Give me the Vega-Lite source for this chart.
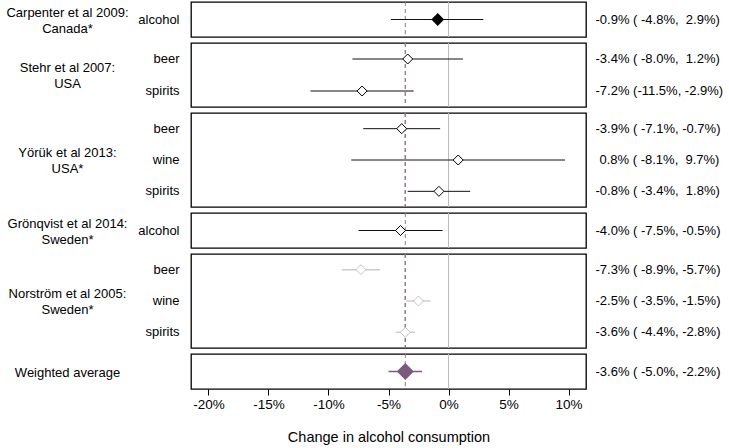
{
  "$schema": "https://vega.github.io/schema/vega-lite/v6.json",
  "padding": {"left": 5, "top": 0, "right": 0, "bottom": 0},
  "background": "white",
  "bounds": "flush",
  "spacing": 6,
  "datasets": {
    "est": [
      {"study": "Carpenter", "beverage": "alcohol", "est": -0.9, "lo": -4.8, "hi": 2.9, "ci": "-0.9% (\u00a0-4.8%,\u00a0\u00a02.9%)"},
      {"study": "Stehr", "beverage": "beer", "est": -3.4, "lo": -8.0, "hi": 1.2, "ci": "-3.4% (\u00a0-8.0%,\u00a0\u00a01.2%)"},
      {"study": "Stehr", "beverage": "spirits", "est": -7.2, "lo": -11.5, "hi": -2.9, "ci": "-7.2% (-11.5%, -2.9%)"},
      {"study": "Yoruk", "beverage": "beer", "est": -3.9, "lo": -7.1, "hi": -0.7, "ci": "-3.9% (\u00a0-7.1%, -0.7%)"},
      {"study": "Yoruk", "beverage": "wine", "est": 0.8, "lo": -8.1, "hi": 9.7, "ci": "0.8% (\u00a0-8.1%,\u00a0\u00a09.7%)"},
      {"study": "Yoruk", "beverage": "spirits", "est": -0.8, "lo": -3.4, "hi": 1.8, "ci": "-0.8% (\u00a0-3.4%,\u00a0\u00a01.8%)"},
      {"study": "Gronqvist", "beverage": "alcohol", "est": -4.0, "lo": -7.5, "hi": -0.5, "ci": "-4.0% (\u00a0-7.5%, -0.5%)"},
      {"study": "Norstrom", "beverage": "beer", "est": -7.3, "lo": -8.9, "hi": -5.7, "ci": "-7.3% (\u00a0-8.9%, -5.7%)"},
      {"study": "Norstrom", "beverage": "wine", "est": -2.5, "lo": -3.5, "hi": -1.5, "ci": "-2.5% (\u00a0-3.5%, -1.5%)"},
      {"study": "Norstrom", "beverage": "spirits", "est": -3.6, "lo": -4.4, "hi": -2.8, "ci": "-3.6% (\u00a0-4.4%, -2.8%)"},
      {"study": "Weighted", "beverage": " ", "est": -3.6, "lo": -5.0, "hi": -2.2, "ci": "-3.6% (\u00a0-5.0%, -2.2%)"}
    ]
  },
  "config": {
    "font": "Liberation Sans",
    "view": {"stroke": "black", "strokeWidth": 1.3},
    "axis": {
      "labelFont": "Liberation Sans", "labelFontSize": 13, "labelColor": "black",
      "titleFont": "Liberation Sans", "titleFontSize": 13, "titleColor": "black", "titleFontWeight": "normal",
      "grid": false
    },
    "axisY": {"ticks": false, "domain": false, "labelPadding": 12}
  },
  "vconcat": [
    {
      "width": 395, "height": 35,
      "data": {"name": "est"},
      "transform": [{"filter": "datum.study == 'Carpenter'"}],
      "layer": [
        {"mark": {"type": "rule", "color": "#bbbbbb", "strokeWidth": 1}, "encoding": {"x": {"datum": 0, "type": "quantitative", "scale": {"domain": [-21.45, 11.45], "nice": false, "zero": false}, "axis": null}}},
        {"mark": {"type": "rule", "color": "#8c7a8e", "strokeWidth": 1, "strokeDash": [4, 3]}, "encoding": {"x": {"datum": -3.6, "type": "quantitative"}}},
        {"mark": {"type": "rule", "color": "#111111", "strokeWidth": 1}, "encoding": {"x": {"field": "lo", "type": "quantitative"}, "x2": {"field": "hi"}, "y": {"field": "beverage", "type": "nominal", "sort": null, "scale": {"type": "band", "paddingInner": 0, "paddingOuter": 0}, "axis": {"title": ["Carpenter et al 2009:", "Canada*"], "titleAngle": 0, "titleAlign": "center", "titleBaseline": "middle", "titleX": -124, "titleY": 10, "titleLineHeight": 16}}}},
        {"mark": {"type": "point", "shape": "diamond", "filled": true, "fill": "black", "stroke": "black", "size": 100, "opacity": 1}, "encoding": {"x": {"field": "est", "type": "quantitative"}, "y": {"field": "beverage", "type": "nominal", "sort": null, "axis": null}}},
        {"mark": {"type": "tick", "opacity": 0}, "encoding": {"x": {"field": "est", "type": "quantitative"}, "y": {"field": "ci", "type": "nominal", "sort": null, "scale": {"type": "band", "paddingInner": 0, "paddingOuter": 0}, "axis": {"orient": "right", "title": null, "labelPadding": 9, "labelAlign": "left"}}}}
      ],
      "resolve": {"scale": {"y": "independent"}, "axis": {"y": "independent"}}
    },
    {
      "width": 395, "height": 64,
      "data": {"name": "est"},
      "transform": [{"filter": "datum.study == 'Stehr'"}],
      "layer": [
        {"mark": {"type": "rule", "color": "#bbbbbb", "strokeWidth": 1}, "encoding": {"x": {"datum": 0, "type": "quantitative", "scale": {"domain": [-21.45, 11.45], "nice": false, "zero": false}, "axis": null}}},
        {"mark": {"type": "rule", "color": "#8c7a8e", "strokeWidth": 1, "strokeDash": [4, 3]}, "encoding": {"x": {"datum": -3.6, "type": "quantitative"}}},
        {"mark": {"type": "rule", "color": "#111111", "strokeWidth": 1}, "encoding": {"x": {"field": "lo", "type": "quantitative"}, "x2": {"field": "hi"}, "y": {"field": "beverage", "type": "nominal", "sort": null, "scale": {"type": "band", "paddingInner": 0, "paddingOuter": 0}, "axis": {"title": ["Stehr et al 2007:", "USA"], "titleAngle": 0, "titleAlign": "center", "titleBaseline": "middle", "titleX": -124, "titleY": 24, "titleLineHeight": 16}}}},
        {"mark": {"type": "point", "shape": "diamond", "filled": true, "fill": "white", "stroke": "black", "strokeWidth": 1, "size": 100, "opacity": 1}, "encoding": {"x": {"field": "est", "type": "quantitative"}, "y": {"field": "beverage", "type": "nominal", "sort": null, "axis": null}}},
        {"mark": {"type": "tick", "opacity": 0}, "encoding": {"x": {"field": "est", "type": "quantitative"}, "y": {"field": "ci", "type": "nominal", "sort": null, "scale": {"type": "band", "paddingInner": 0, "paddingOuter": 0}, "axis": {"orient": "right", "title": null, "labelPadding": 9, "labelAlign": "left"}}}}
      ],
      "resolve": {"scale": {"y": "independent"}, "axis": {"y": "independent"}}
    },
    {
      "width": 395, "height": 94,
      "data": {"name": "est"},
      "transform": [{"filter": "datum.study == 'Yoruk'"}],
      "layer": [
        {"mark": {"type": "rule", "color": "#bbbbbb", "strokeWidth": 1}, "encoding": {"x": {"datum": 0, "type": "quantitative", "scale": {"domain": [-21.45, 11.45], "nice": false, "zero": false}, "axis": null}}},
        {"mark": {"type": "rule", "color": "#8c7a8e", "strokeWidth": 1, "strokeDash": [4, 3]}, "encoding": {"x": {"datum": -3.6, "type": "quantitative"}}},
        {"mark": {"type": "rule", "color": "#111111", "strokeWidth": 1}, "encoding": {"x": {"field": "lo", "type": "quantitative"}, "x2": {"field": "hi"}, "y": {"field": "beverage", "type": "nominal", "sort": null, "scale": {"type": "band", "paddingInner": 0, "paddingOuter": 0}, "axis": {"title": ["Yörük et al 2013:", "USA*"], "titleAngle": 0, "titleAlign": "center", "titleBaseline": "middle", "titleX": -124, "titleY": 39, "titleLineHeight": 16}}}},
        {"mark": {"type": "point", "shape": "diamond", "filled": true, "fill": "white", "stroke": "black", "strokeWidth": 1, "size": 100, "opacity": 1}, "encoding": {"x": {"field": "est", "type": "quantitative"}, "y": {"field": "beverage", "type": "nominal", "sort": null, "axis": null}}},
        {"mark": {"type": "tick", "opacity": 0}, "encoding": {"x": {"field": "est", "type": "quantitative"}, "y": {"field": "ci", "type": "nominal", "sort": null, "scale": {"type": "band", "paddingInner": 0, "paddingOuter": 0}, "axis": {"orient": "right", "title": null, "labelPadding": {"condition": {"test": "substring(datum.label, 0, 1) != '-'", "value": 13}, "value": 9}, "labelAlign": "left"}}}}
      ],
      "resolve": {"scale": {"y": "independent"}, "axis": {"y": "independent"}}
    },
    {
      "width": 395, "height": 35,
      "data": {"name": "est"},
      "transform": [{"filter": "datum.study == 'Gronqvist'"}],
      "layer": [
        {"mark": {"type": "rule", "color": "#bbbbbb", "strokeWidth": 1}, "encoding": {"x": {"datum": 0, "type": "quantitative", "scale": {"domain": [-21.45, 11.45], "nice": false, "zero": false}, "axis": null}}},
        {"mark": {"type": "rule", "color": "#8c7a8e", "strokeWidth": 1, "strokeDash": [4, 3]}, "encoding": {"x": {"datum": -3.6, "type": "quantitative"}}},
        {"mark": {"type": "rule", "color": "#111111", "strokeWidth": 1}, "encoding": {"x": {"field": "lo", "type": "quantitative"}, "x2": {"field": "hi"}, "y": {"field": "beverage", "type": "nominal", "sort": null, "scale": {"type": "band", "paddingInner": 0, "paddingOuter": 0}, "axis": {"title": ["Grönqvist et al 2014:", "Sweden*"], "titleAngle": 0, "titleAlign": "center", "titleBaseline": "middle", "titleX": -124, "titleY": 10, "titleLineHeight": 16}}}},
        {"mark": {"type": "point", "shape": "diamond", "filled": true, "fill": "white", "stroke": "black", "strokeWidth": 1, "size": 100, "opacity": 1}, "encoding": {"x": {"field": "est", "type": "quantitative"}, "y": {"field": "beverage", "type": "nominal", "sort": null, "axis": null}}},
        {"mark": {"type": "tick", "opacity": 0}, "encoding": {"x": {"field": "est", "type": "quantitative"}, "y": {"field": "ci", "type": "nominal", "sort": null, "scale": {"type": "band", "paddingInner": 0, "paddingOuter": 0}, "axis": {"orient": "right", "title": null, "labelPadding": 9, "labelAlign": "left"}}}}
      ],
      "resolve": {"scale": {"y": "independent"}, "axis": {"y": "independent"}}
    },
    {
      "width": 395, "height": 94,
      "data": {"name": "est"},
      "transform": [{"filter": "datum.study == 'Norstrom'"}],
      "layer": [
        {"mark": {"type": "rule", "color": "#bbbbbb", "strokeWidth": 1}, "encoding": {"x": {"datum": 0, "type": "quantitative", "scale": {"domain": [-21.45, 11.45], "nice": false, "zero": false}, "axis": null}}},
        {"mark": {"type": "rule", "color": "#8c7a8e", "strokeWidth": 1, "strokeDash": [4, 3]}, "encoding": {"x": {"datum": -3.6, "type": "quantitative"}}},
        {"mark": {"type": "rule", "color": "#cccccc", "strokeWidth": 1.5}, "encoding": {"x": {"field": "lo", "type": "quantitative"}, "x2": {"field": "hi"}, "y": {"field": "beverage", "type": "nominal", "sort": null, "scale": {"type": "band", "paddingInner": 0, "paddingOuter": 0}, "axis": {"title": ["Norström et al 2005:", "Sweden*"], "titleAngle": 0, "titleAlign": "center", "titleBaseline": "middle", "titleX": -124, "titleY": 39, "titleLineHeight": 16}}}},
        {"mark": {"type": "point", "shape": "diamond", "filled": true, "fill": "white", "stroke": "#c4c4c4", "strokeWidth": 1, "size": 100, "opacity": 1}, "encoding": {"x": {"field": "est", "type": "quantitative"}, "y": {"field": "beverage", "type": "nominal", "sort": null, "axis": null}}},
        {"mark": {"type": "tick", "opacity": 0}, "encoding": {"x": {"field": "est", "type": "quantitative"}, "y": {"field": "ci", "type": "nominal", "sort": null, "scale": {"type": "band", "paddingInner": 0, "paddingOuter": 0}, "axis": {"orient": "right", "title": null, "labelPadding": 9, "labelAlign": "left"}}}}
      ],
      "resolve": {"scale": {"y": "independent"}, "axis": {"y": "independent"}}
    },
    {
      "width": 395, "height": 35,
      "data": {"name": "est"},
      "transform": [{"filter": "datum.study == 'Weighted'"}],
      "layer": [
        {"mark": {"type": "rule", "color": "#bbbbbb", "strokeWidth": 1}, "encoding": {"x": {"datum": 0, "type": "quantitative", "scale": {"domain": [-21.45, 11.45], "nice": false, "zero": false}, "axis": {"values": [-20, -15, -10, -5, 0, 5, 10], "labelExpr": "datum.value + '%'", "labelFontSize": 13.5, "titleFontSize": 14.5, "domain": false, "tickColor": "black", "tickSize": 6, "tickWidth": 1, "labelPadding": 2, "title": "Change in alcohol consumption", "titlePadding": 20}}}},
        {"mark": {"type": "rule", "color": "#8c7a8e", "strokeWidth": 1, "strokeDash": [4, 3]}, "encoding": {"x": {"datum": -3.6, "type": "quantitative"}}},
        {"mark": {"type": "rule", "color": "#7b5a7e", "strokeWidth": 1.3}, "encoding": {"x": {"field": "lo", "type": "quantitative"}, "x2": {"field": "hi"}, "y": {"field": "beverage", "type": "nominal", "sort": null, "scale": {"type": "band", "paddingInner": 0, "paddingOuter": 0}, "axis": {"title": "Weighted average", "titleAngle": 0, "titleAlign": "center", "titleBaseline": "middle", "titleX": -124, "titleY": 18}}}},
        {"mark": {"type": "point", "shape": "diamond", "filled": true, "fill": "#7b5a7e", "stroke": "#7b5a7e", "size": 200, "opacity": 1}, "encoding": {"x": {"field": "est", "type": "quantitative"}, "y": {"field": "beverage", "type": "nominal", "sort": null, "axis": null}}},
        {"mark": {"type": "tick", "opacity": 0}, "encoding": {"x": {"field": "est", "type": "quantitative"}, "y": {"field": "ci", "type": "nominal", "sort": null, "scale": {"type": "band", "paddingInner": 0, "paddingOuter": 0}, "axis": {"orient": "right", "title": null, "labelPadding": 9, "labelAlign": "left"}}}}
      ],
      "resolve": {"scale": {"y": "independent"}, "axis": {"y": "independent"}}
    }
  ]
}
